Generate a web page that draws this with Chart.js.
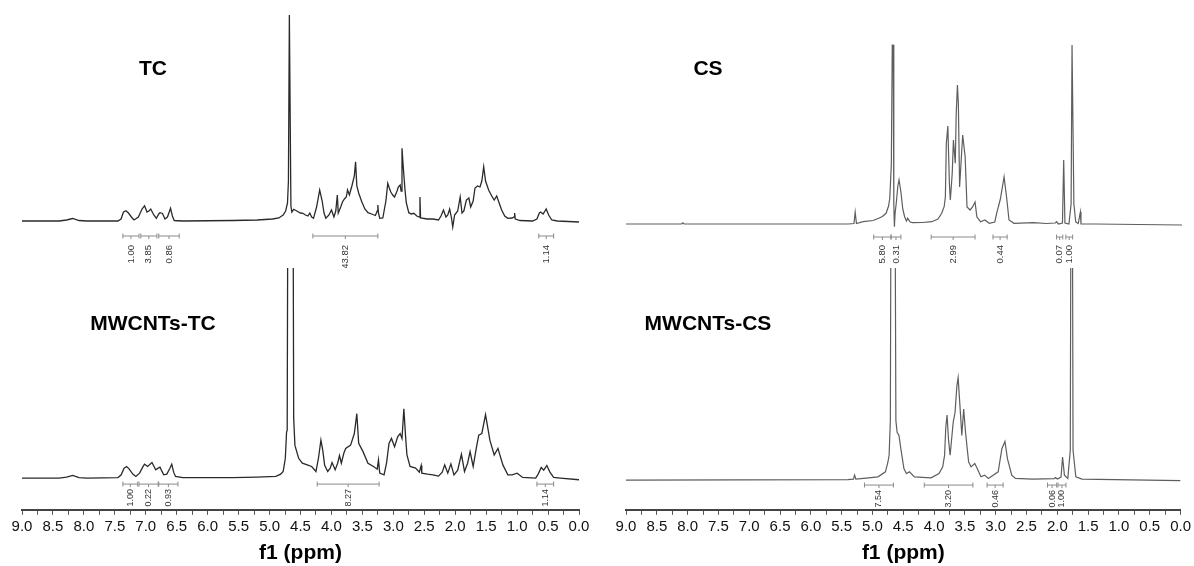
<!DOCTYPE html>
<html>
<head>
<meta charset="utf-8">
<script src="https://cdn.jsdelivr.net/npm/chart.js@4.4.1/dist/chart.umd.min.js"></script>
<style>
  body { margin: 0; background: #fff; width: 1194px; height: 566px; position: relative; overflow: hidden;
         font-family: "Liberation Sans", Arial, sans-serif; }
  canvas { position: absolute; }
  .lbl { position: absolute; font-weight: bold; font-size: 21px; color: #000;
         transform: translate(-50%, -50%); white-space: nowrap; }
</style>
</head>
<body>
<canvas id="tc" width="600" height="268" style="left:0;top:0"></canvas>
<canvas id="cs" width="594" height="268" style="left:600px;top:0"></canvas>
<canvas id="mwtc" width="600" height="298" style="left:0;top:268px"></canvas>
<canvas id="mwcs" width="594" height="298" style="left:600px;top:268px"></canvas>
<div class="lbl" style="left:153px;top:68px">TC</div>
<div class="lbl" style="left:708px;top:68px">CS</div>
<div class="lbl" style="left:153px;top:323px">MWCNTs-TC</div>
<div class="lbl" style="left:708px;top:323px">MWCNTs-CS</div>
<script>
// spectra: [ppm, intensity (arbitrary units, baseline = 0)]
const tcSpectrum = [
  [9.0, 0], [8.40, 0], [8.28, 1], [8.18, 2.5], [8.08, 0.5], [7.95, 0], [7.45, 0], [7.40, 2], [7.36, 9],
  [7.32, 10.3], [7.28, 8], [7.22, 3], [7.19, 1], [7.12, 4], [7.06, 12], [7.02, 15.3], [6.98, 9], [6.95, 10],
  [6.92, 12], [6.87, 6], [6.83, 2.7], [6.79, 7], [6.77, 8.3], [6.73, 7.5], [6.69, 2], [6.65, 4], [6.60, 12.7],
  [6.57, 5], [6.54, 0.5], [6.40, 0], [5.60, 0.5], [5.20, 1], [4.95, 2], [4.85, 3], [4.78, 6], [4.74, 10],
  [4.71, 18], [4.695, 40], [4.68, 206], [4.67, 206], [4.655, 15], [4.64, 9], [4.61, 11.7], [4.56, 10],
  [4.50, 8], [4.46, 7.7], [4.42, 6], [4.38, 5], [4.35, 8], [4.32, 4], [4.29, 2.7], [4.24, 14], [4.19, 31],
  [4.15, 20], [4.12, 8], [4.09, 2.7], [4.04, 6], [4.00, 11], [3.96, 4], [3.93, 10], [3.905, 26], [3.89, 8],
  [3.85, 14], [3.82, 19.3], [3.79, 22], [3.76, 24], [3.74, 31], [3.71, 26], [3.67, 35], [3.63, 45],
  [3.61, 59.3], [3.59, 35], [3.56, 28], [3.51, 19.3], [3.46, 12], [3.41, 8.3], [3.35, 7], [3.29, 5.5],
  [3.26, 10], [3.25, 16], [3.24, 8], [3.22, 2.7], [3.17, 3], [3.12, 20], [3.09, 37.7], [3.06, 32], [3.04, 29],
  [3.01, 26], [2.98, 24], [2.94, 30], [2.92, 34], [2.89, 36], [2.875, 30], [2.86, 72.7], [2.84, 54.3],
  [2.81, 30], [2.79, 18], [2.75, 8.3], [2.71, 7], [2.67, 7.7], [2.62, 5], [2.58, 4], [2.57, 24], [2.56, 3],
  [2.45, 2], [2.36, 2], [2.27, 1], [2.23, 5], [2.19, 11], [2.15, 4], [2.12, 6], [2.09, 12], [2.06, 3],
  [2.04, -6], [2.01, 6], [1.96, 10], [1.92, 24], [1.89, 8], [1.86, 10], [1.82, 21], [1.78, 23], [1.75, 14],
  [1.71, 20], [1.68, 33], [1.64, 35], [1.60, 34], [1.57, 40], [1.54, 54.3], [1.51, 40], [1.46, 31],
  [1.41, 25], [1.37, 21], [1.33, 25], [1.29, 18], [1.25, 11], [1.20, 5], [1.15, 2.7], [1.08, 3], [1.05, 4],
  [1.04, 8], [1.03, 2], [0.95, 0.5], [0.75, 0], [0.68, 2], [0.64, 8], [0.62, 9], [0.58, 7], [0.53, 12],
  [0.49, 6], [0.44, 1], [0.35, 0], [0.0, -1]
];
const mwTcSpectrum = [
  [9.0, 0], [8.40, 0], [8.28, 1], [8.18, 2.7], [8.08, 0.5], [7.95, 0], [7.45, 0.5], [7.40, 3], [7.35, 10],
  [7.31, 11.7], [7.27, 9.3], [7.21, 4], [7.16, 1.7], [7.10, 5], [7.05, 11], [7.02, 14], [6.97, 11.7],
  [6.90, 15.7], [6.84, 8.3], [6.80, 10], [6.77, 11], [6.74, 7], [6.71, 3.3], [6.66, 4], [6.61, 10], [6.58, 14],
  [6.55, 6], [6.52, 1.7], [6.40, 0.5], [5.60, 0.5], [5.20, 1], [4.90, 1.7], [4.82, 4], [4.78, 6.7],
  [4.745, 20], [4.725, 46.7], [4.715, 48], [4.70, 400], [4.625, 400], [4.61, 60], [4.59, 33], [4.53, 20],
  [4.47, 15], [4.38, 13], [4.32, 11.7], [4.25, 6.7], [4.21, 20], [4.17, 38.3], [4.14, 28], [4.11, 13],
  [4.06, 6.7], [4.02, 10], [3.99, 15.7], [3.94, 8.3], [3.90, 15], [3.87, 22.7], [3.84, 15], [3.80, 25],
  [3.77, 30], [3.69, 33.3], [3.63, 45], [3.59, 65], [3.56, 35], [3.49, 26.7], [3.41, 15], [3.32, 11.7],
  [3.26, 9], [3.24, 18.3], [3.22, 5], [3.15, 3.3], [3.11, 15], [3.07, 35], [3.03, 40], [2.98, 31.7],
  [2.93, 41.7], [2.89, 45], [2.86, 40], [2.83, 70], [2.80, 40], [2.78, 23.3], [2.73, 11.7], [2.64, 10],
  [2.58, 6], [2.55, 12.7], [2.54, 5], [2.45, 4], [2.36, 3.3], [2.27, 2], [2.21, 6], [2.17, 13.3], [2.12, 5],
  [2.07, 14.3], [2.02, 3.3], [1.96, 8], [1.90, 24], [1.85, 6.7], [1.80, 15], [1.76, 26.7], [1.71, 11.7],
  [1.66, 30], [1.62, 43.3], [1.57, 45], [1.51, 64], [1.44, 38.3], [1.37, 23.3], [1.31, 30], [1.23, 13.3],
  [1.15, 3.3], [1.08, 3.3], [1.00, 5], [0.91, 0.7], [0.70, 0], [0.66, 4], [0.61, 10.7], [0.57, 8],
  [0.52, 12.7], [0.47, 6], [0.41, 0.7], [0.30, 0], [0.0, -1.7]
];
const csSpectrum = [
  [9.0, 0], [8.10, 0], [8.08, 1.2], [8.06, 0], [5.40, 0], [5.31, 0.5], [5.29, 11.7], [5.27, 0.5], [5.16, 2.3],
  [5.00, 3.5], [4.91, 5.7], [4.85, 7.5], [4.79, 10.7], [4.75, 18], [4.73, 25.7], [4.705, 60], [4.69, 179],
  [4.675, 179], [4.665, 20], [4.655, -2.7], [4.645, 10], [4.62, 24], [4.60, 38], [4.58, 44], [4.55, 32],
  [4.52, 15], [4.49, 7.3], [4.46, 3], [4.44, 5.7], [4.40, 2], [4.36, 1.3], [4.20, 1.5], [4.05, 2.3],
  [3.95, 5], [3.89, 10.7], [3.85, 17.3], [3.83, 27.3], [3.815, 80.7], [3.79, 98], [3.765, 40], [3.75, 24],
  [3.72, 50], [3.70, 84], [3.67, 60.7], [3.655, 110], [3.635, 139], [3.62, 120], [3.60, 37], [3.55, 89],
  [3.51, 67], [3.48, 17], [3.43, 14], [3.39, 17], [3.35, 22], [3.32, 7], [3.26, 2.3], [3.19, 4],
  [3.12, 0.7], [3.03, 2], [3.00, 10.7], [2.94, 25], [2.88, 47], [2.84, 27], [2.80, 4], [2.72, 0.7],
  [2.40, 1.3], [2.20, 0.5], [2.05, 1], [2.03, 2.3], [2.00, 0], [1.935, 1], [1.915, 64], [1.895, 1],
  [1.83, 0], [1.795, 20], [1.78, 179], [1.765, 179], [1.75, 20], [1.72, 2], [1.68, 0.5], [1.645, 12],
  [1.635, 0], [1.40, 0], [0.0, -1]
];
const mwCsSpectrum = [
  [9.0, 0], [5.40, 0.5], [5.31, 1], [5.29, 5], [5.27, 1], [5.10, 2], [4.91, 3.3], [4.79, 8.3], [4.75, 18],
  [4.73, 25], [4.71, 60], [4.695, 400], [4.64, 400], [4.62, 60], [4.60, 48.3], [4.57, 45], [4.54, 31.7],
  [4.49, 11.7], [4.45, 6.7], [4.40, 8.3], [4.32, 3.3], [4.05, 2.3], [3.92, 6.7], [3.86, 13.3], [3.83, 25],
  [3.81, 53.3], [3.79, 65.7], [3.765, 40], [3.74, 25], [3.69, 58.3], [3.66, 68.3], [3.63, 95], [3.61, 103.3],
  [3.57, 65], [3.55, 45], [3.52, 71.7], [3.49, 48.3], [3.44, 18.3], [3.40, 13.3], [3.34, 16.7], [3.30, 11.7],
  [3.24, 3.3], [3.18, 5], [3.12, 1.7], [2.96, 8.3], [2.90, 31.7], [2.85, 39], [2.81, 21.7], [2.74, 5],
  [2.68, 1.7], [2.40, 1], [2.05, 1.5], [2.03, 2.5], [2.00, 1], [1.94, 3], [1.915, 23.3], [1.885, 5],
  [1.83, 1.7], [1.79, 30], [1.775, 400], [1.76, 400], [1.745, 30], [1.70, 3.3], [1.60, 1], [0.0, -0.5]
];

// integrals: [from ppm, to ppm, value]
const tcIntegrals = [[7.37, 7.11, '1.00'], [7.08, 6.82, '3.85'], [6.79, 6.46, '0.86'],
  [4.30, 3.25, '43.82'], [0.65, 0.41, '1.14']];
const mwTcIntegrals = [[7.37, 7.13, '1.00'], [7.11, 6.80, '0.22'], [6.79, 6.48, '0.93'],
  [4.23, 3.23, '8.27'], [0.68, 0.41, '1.14']];
const csIntegrals = [[4.99, 4.71, '5.80'], [4.71, 4.55, '0.31'], [4.06, 3.35, '2.99'],
  [3.06, 2.83, '0.44'], [2.03, 1.93, '0.07'], [1.88, 1.77, '1.00']];
const mwCsIntegrals = [[5.13, 4.66, '7.54'], [4.16, 3.37, '3.20'], [3.14, 2.88, '0.46'],
  [2.16, 2.01, '0.06'], [1.99, 1.86, '1.00']];

const FONT = 'Liberation Sans';

// draws integral brackets with rotated values under the trace
const integralPlugin = {
  id: 'integrals',
  afterDatasetsDraw(chart, args, opts) {
    if (!opts.list) return;
    const ctx = chart.ctx;
    const xs = chart.scales.x;
    const by = chart.scales.y.getPixelForValue(0) + opts.offset;
    ctx.save();
    ctx.strokeStyle = '#8a8a8a';
    ctx.lineWidth = 1;
    ctx.fillStyle = '#333';
    ctx.font = opts.fontSize + 'px "' + FONT + '"';
    opts.list.forEach(([a, b, label]) => {
      const x1 = xs.getPixelForValue(a), x2 = xs.getPixelForValue(b);
      const xc = (x1 + x2) / 2;
      ctx.beginPath();
      ctx.moveTo(x1, by); ctx.lineTo(x2, by);
      ctx.moveTo(x1, by - 2.5); ctx.lineTo(x1, by + 2.5);
      ctx.moveTo(x2, by - 2.5); ctx.lineTo(x2, by + 2.5);
      ctx.moveTo(xc, by); ctx.lineTo(xc, by + 3);
      ctx.stroke();
      ctx.save();
      ctx.translate(xc, by + opts.gap);
      ctx.rotate(-Math.PI / 2);
      ctx.textAlign = 'right';
      ctx.textBaseline = 'middle';
      ctx.fillText(label, 0, 0);
      ctx.restore();
    });
    ctx.restore();
  }
};

function makeChart(id, spectrum, integrals, color, width, yMin, yMax, pad, withAxis, offset, gap, fontSize) {
  const xAxis = {
    type: 'linear', reverse: true, min: 0, max: 9, display: withAxis,
    border: { display: true, color: '#444', width: 2 },
    grid: { drawOnChartArea: false, drawTicks: true, tickLength: 5, color: '#555', lineWidth: 1 },
    ticks: {
      stepSize: 0.25, autoSkip: false, maxRotation: 0, padding: 3, color: '#111',
      font: { family: FONT, size: 15 },
      callback: v => Math.abs(v * 2 - Math.round(v * 2)) < 1e-6 ? v.toFixed(1) : ''
    },
    title: {
      display: true, text: 'f1 (ppm)', color: '#000',
      font: { family: FONT, size: 21, weight: 'bold' }, padding: { top: 2, bottom: 0 }
    }
  };
  return new Chart(document.getElementById(id), {
    type: 'line',
    data: {
      datasets: [{
        data: spectrum.map(([x, y]) => ({ x, y })),
        borderColor: color, borderWidth: width, pointRadius: 0, tension: 0, fill: false
      }]
    },
    options: {
      responsive: false, animation: false, devicePixelRatio: 1,
      layout: { padding: pad },
      plugins: {
        legend: { display: false }, tooltip: { enabled: false },
        integrals: { list: integrals, offset: offset, gap: gap, fontSize: fontSize }
      },
      scales: {
        x: xAxis,
        y: { display: false, min: yMin, max: yMax }
      }
    },
    plugins: [integralPlugin]
  });
}

makeChart('tc', tcSpectrum, tcIntegrals, '#2a2a2a', 1.3, -47, 221,
  { left: 22, right: 21, top: 0, bottom: 0 }, false, 15, 9, 9.5);
makeChart('cs', csSpectrum, csIntegrals, '#5e5e5e', 1.2, -44, 224,
  { left: 26, right: 12, top: 0, bottom: 0 }, false, 13, 8, 9.5);
makeChart('mwtc', mwTcSpectrum, mwTcIntegrals, '#2a2a2a', 1.3, -32, 212,
  { left: 22, right: 21, top: 0, bottom: 0 }, true, 6, 5, 9);
makeChart('mwcs', mwCsSpectrum, mwCsIntegrals, '#5e5e5e', 1.2, -30, 214,
  { left: 26, right: 12, top: 0, bottom: 0 }, true, 5, 5, 9);
</script>
</body>
</html>
